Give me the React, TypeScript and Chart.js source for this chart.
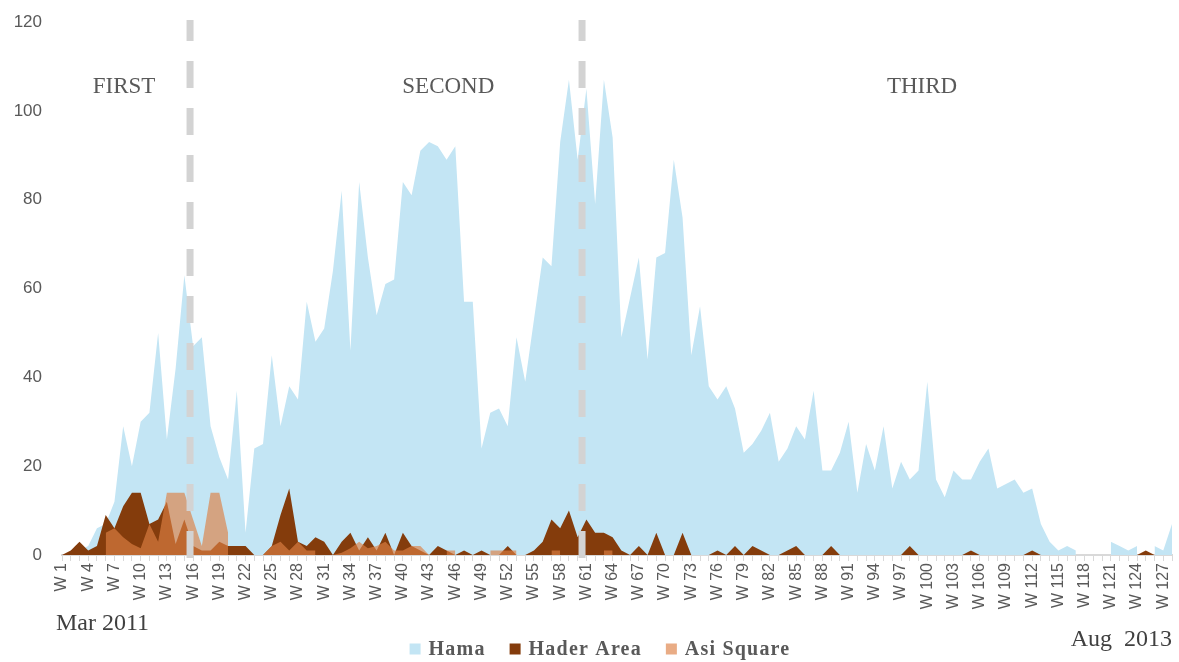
import React, { useEffect, useRef } from 'react';
import { Chart, registerables } from 'chart.js';

Chart.register(...registerables);

// ---- Data ----
const weeks: string[] = Array.from({ length: 128 }, (_, i) => `W ${i + 1}`);

const hama: (number | null)[] = [
  0, 0, 1, 2, 6, 7, 12, 29, 20, 30,
  32, 50, 26, 42, 63, 47, 49, 29, 22, 17,
  37, 5, 24, 25, 45, 29, 38, 35, 57, 48,
  51, 64, 82, 46, 84, 67, 54, 61, 62, 84,
  81, 91, 93, 92, 89, 92, 57, 57, 24, 32,
  33, 29, 49, 39, 53, 67, 65, 93, 107, 89,
  105, 79, 107, 94, 49, 58, 67, 44, 67, 68,
  89, 76, 45, 56, 38, 35, 38, 33, 23, 25,
  28, 32, 21, 24, 29, 26, 37, 19, 19, 23,
  30, 14, 25, 19, 29, 15, 21, 17, 19, 39,
  17, 13, 19, 17, 17, 21, 24, 15, 16, 17,
  14, 15, 7, 3, 1, 2, 1, null, null, null,
  3, 2, 1, 2, null, 2, 1, 7,
];

const haderArea: (number | null)[] = [
  0, 1, 3, 1, 2, 9, 6, 11, 14, 14,
  7, 8, 12, 2.5, 8, 2, 1, 1, 3, 2,
  2, 2, 0, 0, 2, 9, 15, 3, 2, 4,
  3, 0, 3, 5, 1, 4, 1, 5, 0, 5,
  2, 1, 0, 2, 1, 0, 1, 0, 1, 0,
  0, 2, 0, 0, 1, 3, 8, 6, 10, 4,
  8, 5, 5, 4, 1, 0, 2, 0, 5, 0,
  0, 5, 0, 0, 0, 1, 0, 2, 0, 2,
  1, 0, 0, 1, 2, 0, 0, 0, 2, 0,
  0, 0, 0, 0, 0, 0, 0, 2, 0, 0,
  0, 0, 0, 0, 1, 0, 0, 0, 0, 0,
  0, 1, 0, 0, 0, 0, 0, 0, 0, 0,
  0, 0, 0, 0, 1, 0, 0, 0,
];

const asiSquare: (number | null)[] = [
  null, null, null, null, null, 5, 6, 4, 2.5, 1.5,
  7, 3, 14, 14, 14, 8, 2, 14, 14, 5,
  null, null, null, 0, 2, 3, 1, 3, 1, 1,
  null, 0, 0.5, 1.5, 3, 1.5, 2, 3, 1, 1,
  2, 2, 0, null, 1, 1, null, null, null, 1,
  1, 1, 1, null, null, null, 1, 1, null, null,
  null, null, 1, 1, null, null, null, null, null, null,
  null, null, null, null, null, null, null, null, null, null,
  null, null, null, null, null, null, null, null, null, null,
  null, null, null, null, null, null, null, null, null, null,
  null, null, null, null, null, null, null, null, null, null,
  null, null, null, null, null, null, null, null, null, null,
  null, null, null, null, null, null, null, null,
];

const seriesNames = ['Hama', 'Hader Area', 'Asi Square'];
const seriesColors = ['#C3E5F4', '#843C0C', 'rgba(221,128,67,0.65)'];

const yMin = 0;
const yMax = 120;
const yStep = 20;

const phaseLabels = ['FIRST', 'SECOND', 'THIRD'];
const phaseLabelPositions = [7.1, 44.2, 98.4]; // category index units
const phaseLabelValue = 105.4;
const phaseBoundaries = [14.65, 59.5]; // category index units

const startDateLabel = 'Mar 2011';
const endDateLabel = 'Aug  2013';

const GRAY_TEXT = '#595959';
const AXIS_GRAY = '#D9D9D9';
const SANS = '"Liberation Sans", Arial, sans-serif';
const SERIF = '"Liberation Serif", "Times New Roman", serif';

const overlayPlugin = {
  id: 'overlayPlugin',
  afterDatasetsDraw(chart: any) {
    const { ctx, chartArea, scales } = chart;
    const xs = scales.x;
    const ys = scales.y;
    ctx.save();
    // phase boundary dashed lines
    ctx.strokeStyle = '#D3D3D3';
    ctx.lineWidth = 7;
    ctx.setLineDash([27, 20]);
    phaseBoundaries.forEach((b) => {
      const x = xs.getPixelForValue(b);
      ctx.beginPath();
      ctx.moveTo(x, chartArea.bottom + 3);
      ctx.lineTo(x, chartArea.top - 2);
      ctx.stroke();
    });
    ctx.setLineDash([]);
    // phase labels
    ctx.fillStyle = GRAY_TEXT;
    ctx.font = `23px ${SERIF}`;
    ctx.textAlign = 'center';
    ctx.textBaseline = 'middle';
    phaseLabels.forEach((t, i) => {
      ctx.fillText(t, xs.getPixelForValue(phaseLabelPositions[i]), ys.getPixelForValue(phaseLabelValue));
    });
    ctx.restore();
  },
  afterDraw(chart: any) {
    const { ctx, chartArea } = chart;
    ctx.save();
    // date labels
    ctx.fillStyle = '#404040';
    ctx.font = `24px ${SERIF}`;
    ctx.textBaseline = 'middle';
    ctx.textAlign = 'left';
    ctx.fillText(startDateLabel, chartArea.left - 6, chartArea.bottom + 69);
    ctx.textAlign = 'right';
    ctx.fillText(endDateLabel, chartArea.right, chartArea.bottom + 85);

    // legend
    ctx.font = `bold 20px ${SERIF}`;
    (ctx as any).letterSpacing = '1.2px';
    const box = 11;
    const gapBoxText = 8;
    const gapItems = 24;
    const widths = seriesNames.map((n) => ctx.measureText(n).width);
    const total = widths.reduce((a, w) => a + box + gapBoxText + w, 0) + gapItems * (seriesNames.length - 1);
    const centerX = (chartArea.left + chartArea.right) / 2 - 17;
    const cy = chartArea.bottom + 94;
    let x = centerX - total / 2;
    ctx.textAlign = 'left';
    ctx.textBaseline = 'middle';
    seriesNames.forEach((n, i) => {
      ctx.fillStyle = seriesColors[i];
      ctx.fillRect(x, cy - box / 2, box, box);
      x += box + gapBoxText;
      ctx.fillStyle = GRAY_TEXT;
      ctx.fillText(n, x, cy + 1);
      x += widths[i] + gapItems;
    });
    ctx.restore();
  },
};

export default function App() {
  const canvasRef = useRef<HTMLCanvasElement | null>(null);

  useEffect(() => {
    document.body.style.margin = '0';
    const canvas = canvasRef.current;
    if (!canvas) return;
    const seriesData = [hama, haderArea, asiSquare];
    const chart = new Chart(canvas, {
      type: 'line',
      data: {
        labels: weeks,
        datasets: seriesNames.map((name, i) => ({
          label: name,
          data: seriesData[i],
          backgroundColor: seriesColors[i],
          borderColor: 'rgba(0,0,0,0)',
          borderWidth: 0,
          pointRadius: 0,
          pointHoverRadius: 0,
          tension: 0,
          fill: 'origin',
          spanGaps: false,
          order: seriesNames.length - i,
        })),
      },
      options: {
        responsive: false,
        animation: false,
        devicePixelRatio: 1,
        events: [],
        layout: { padding: { left: 8, right: 7, top: 22, bottom: 34 } },
        plugins: {
          legend: { display: false },
          tooltip: { enabled: false },
          title: { display: false },
        },
        scales: {
          x: {
            type: 'category',
            offset: false,
            grid: {
              display: true,
              drawOnChartArea: false,
              drawTicks: true,
              tickLength: 6,
              color: AXIS_GRAY,
              lineWidth: 1,
            },
            border: { display: true, color: AXIS_GRAY, width: 2 },
            ticks: {
              autoSkip: false,
              maxRotation: 90,
              minRotation: 90,
              padding: 2,
              color: GRAY_TEXT,
              font: { family: SANS, size: 16 },
              callback: (_v: any, i: number) => (i % 3 === 0 ? weeks[i] : ''),
            },
            afterFit: (s: any) => {
              s.height = 73;
              s.paddingLeft = 0;
              s.paddingRight = 0;
            },
          },
          y: {
            min: yMin,
            max: yMax,
            grid: { display: false, drawTicks: false },
            border: { display: false },
            ticks: {
              stepSize: yStep,
              padding: 20,
              color: GRAY_TEXT,
              font: { family: SANS, size: 17 },
            },
            afterFit: (s: any) => {
              s.width = 54;
              s.paddingTop = 0;
              s.paddingBottom = 0;
            },
          },
        },
      },
      plugins: [overlayPlugin],
    });
    return () => chart.destroy();
  }, []);

  return (
    <div style={{ width: 1179, height: 662, background: '#fff' }}>
      <canvas ref={canvasRef} width={1179} height={662} style={{ display: 'block', width: 1179, height: 662 }} />
    </div>
  );
}
